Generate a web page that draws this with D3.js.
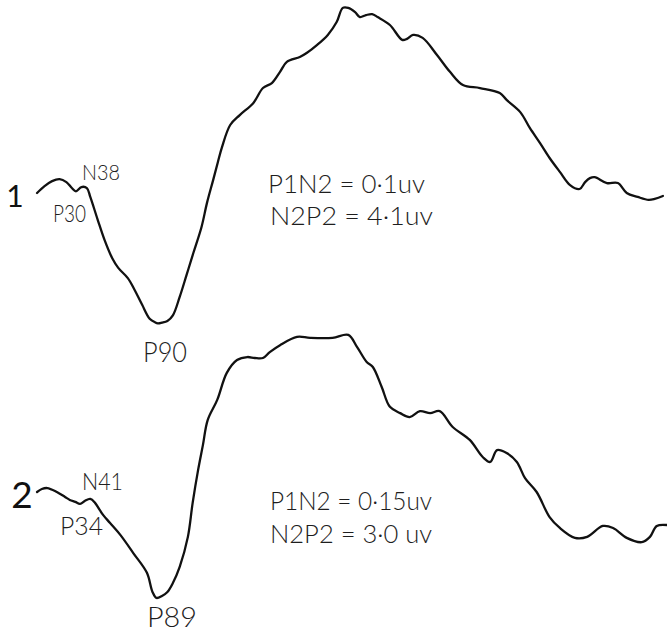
<!DOCTYPE html>
<html>
<head>
<meta charset="utf-8">
<script src="https://cdn.jsdelivr.net/npm/d3@7"></script>
<style>
  html, body { margin: 0; padding: 0; background: #fff; }
  svg { display: block; }
  .trace { fill: none; stroke: #111; stroke-width: 2.3; stroke-linejoin: round; stroke-linecap: round; }
  .lbl { font-family: Lato, "DejaVu Sans", sans-serif; font-weight: 300; fill: #1e1e1e; }
  .num { font-family: Lato, "DejaVu Sans", sans-serif; font-weight: 400; fill: #111; text-anchor: middle; }
</style>
</head>
<body>
<svg id="chart" width="667" height="634"></svg>
<script>
// Evoked response traces: time in ms, amplitude in µV (negative plotted upward).
const time1 = [1.5, 7, 12.5, 18, 23, 27, 30, 34, 38, 40.5, 46, 51, 56.5, 61, 68, 73, 78.5, 84, 88, 90, 93, 97,
  101, 106, 111, 116, 122, 126, 130.5, 134, 137, 143, 150, 160, 167, 173.5, 179.5, 184.5, 194, 199, 206.5, 214.5,
  221, 225.5, 229.5, 234.5, 238, 242.5, 247, 251, 260, 269, 272.5, 277, 284, 294.5, 304, 313.5, 326, 340.5, 345.5,
  355.5, 362.5, 370, 377, 384.5, 392, 399, 403, 406.5, 410, 419, 427, 433.5, 441.5, 449.5, 454, 460];
const amp1 = [0.09, -0.12, -0.27, -0.33, -0.24, -0.06, 0.04, -0.09, -0.06, 0.21, 0.91, 1.52, 2.06, 2.36, 2.67, 3.03,
  3.48, 3.90, 4.01, 4.04, 4.02, 3.97, 3.80, 3.24, 2.58, 1.91, 1.12, 0.39, -0.30, -0.85, -1.30, -1.97, -2.27, -2.64,
  -3.09, -3.24, -3.58, -3.88, -4.03, -4.15, -4.39, -4.70, -5.09, -5.52, -5.52, -5.39, -5.24, -5.30, -5.33, -5.24,
  -5.00, -4.55, -4.58, -4.70, -4.61, -4.09, -3.58, -3.18, -3.09, -2.94, -2.73, -2.36, -1.88, -1.42, -0.97, -0.55,
  -0.15, -0.03, -0.24, -0.36, -0.39, -0.21, -0.21, 0.09, 0.21, 0.30, 0.27, 0.18];

const time2 = [1.5, 5, 9, 16, 22, 25.5, 29.5, 33, 36.5, 40.5, 44, 47.5, 50, 55, 62.5, 72, 82, 86, 89, 93, 97, 101,
  106, 112, 115.5, 119.5, 123, 126.5, 133.5, 140.5, 148, 155.5, 161, 167, 172, 179.5, 192, 201.5, 218, 229.5,
  236, 243, 247.5, 254, 260, 267.5, 274.5, 282, 289.5, 296.5, 306, 318.5, 328, 333.5, 338.5, 345.5, 353, 359, 367.5,
  377, 384.5, 395.5, 404.5, 416, 423.5, 433.5, 444.5, 450.5, 455.5, 463];
const amp2 = [0, -0.09, -0.12, 0, 0.15, 0.24, 0.30, 0.36, 0.27, 0.21, 0.33, 0.55, 0.70, 0.94, 1.30, 1.85, 2.45, 3.02,
  3.21, 3.15, 3.03, 2.76, 2.27, 1.36, 0.33, -0.67, -1.42, -2.18, -2.79, -3.61, -4.00, -4.09, -4.06, -4.06,
  -4.24, -4.45, -4.70, -4.67, -4.67, -4.76, -4.39, -3.94, -3.79, -3.18, -2.58, -2.39, -2.27, -2.45, -2.39, -2.45,
  -1.97, -1.58, -1.06, -0.91, -1.27, -1.18, -0.91, -0.42, 0, 0.76, 1.09, 1.39, 1.36, 1.03, 1.09, 1.39, 1.52, 1.36,
  1.03, 1.00];

const traceNames = ["1", "2"];
const peakNames1 = ["P30", "N38", "P90"];
const peakNames2 = ["P34", "N41", "P89"];
const summary1 = ["P1N2 = 0·1uv", "N2P2 = 4·1uv"];
const summary2 = ["P1N2 = 0·15uv", "N2P2 = 3·0 uv"];

const svg = d3.select("#chart");

// Shared time axis; each trace gets its own vertical scale (negative up).
const x = d3.scaleLinear().domain([0, 463]).range([35, 667]);
const y1 = d3.scaleLinear().domain([-6, 6]).range([190 - 198, 190 + 198]);
const y2 = d3.scaleLinear().domain([-6, 6]).range([492 - 198, 492 + 198]);

function drawTrace(times, amps, y) {
  const pts = times.map((t, i) => [t, amps[i]]);
  const line = d3.line()
    .x(d => x(d[0]))
    .y(d => y(d[1]))
    .curve(d3.curveCatmullRom.alpha(0.5));
  svg.append("path").attr("class", "trace").attr("d", line(pts));
}

drawTrace(time1, amp1, y1);
drawTrace(time2, amp2, y2);

// Place a text fitted to a given width, left edge px, baseline py.
function put(text, px, py, w, size, cls) {
  svg.append("text")
    .attr("class", cls)
    .attr("x", px).attr("y", py)
    .attr("font-size", size)
    .attr("textLength", w)
    .attr("lengthAdjust", "spacingAndGlyphs")
    .text(text);
}

// trace numbers (centred)
svg.append("text").attr("class", "num").attr("x", 15).attr("y", 207).attr("font-size", 30).text(traceNames[0]);
svg.append("text").attr("class", "num").attr("x", 22).attr("y", 508).attr("font-size", 37).text(traceNames[1]);

// peak labels, trace 1
put(peakNames1[0], 53, 222, 33, 24, "lbl");
put(peakNames1[1], 82, 180, 38, 22, "lbl");
put(peakNames1[2], 143, 362, 44, 28, "lbl");

// peak labels, trace 2
put(peakNames2[0], 60, 535, 43, 26, "lbl");
put(peakNames2[1], 82, 490, 41, 24, "lbl");
put(peakNames2[2], 147, 627, 50, 27, "lbl");

// amplitude summaries
put(summary1[0], 268, 193, 157, 26, "lbl");
put(summary1[1], 270, 225, 163, 25, "lbl");
put(summary2[0], 270, 510, 162, 26, "lbl");
put(summary2[1], 270, 543, 162, 25, "lbl");
</script>
</body>
</html>
